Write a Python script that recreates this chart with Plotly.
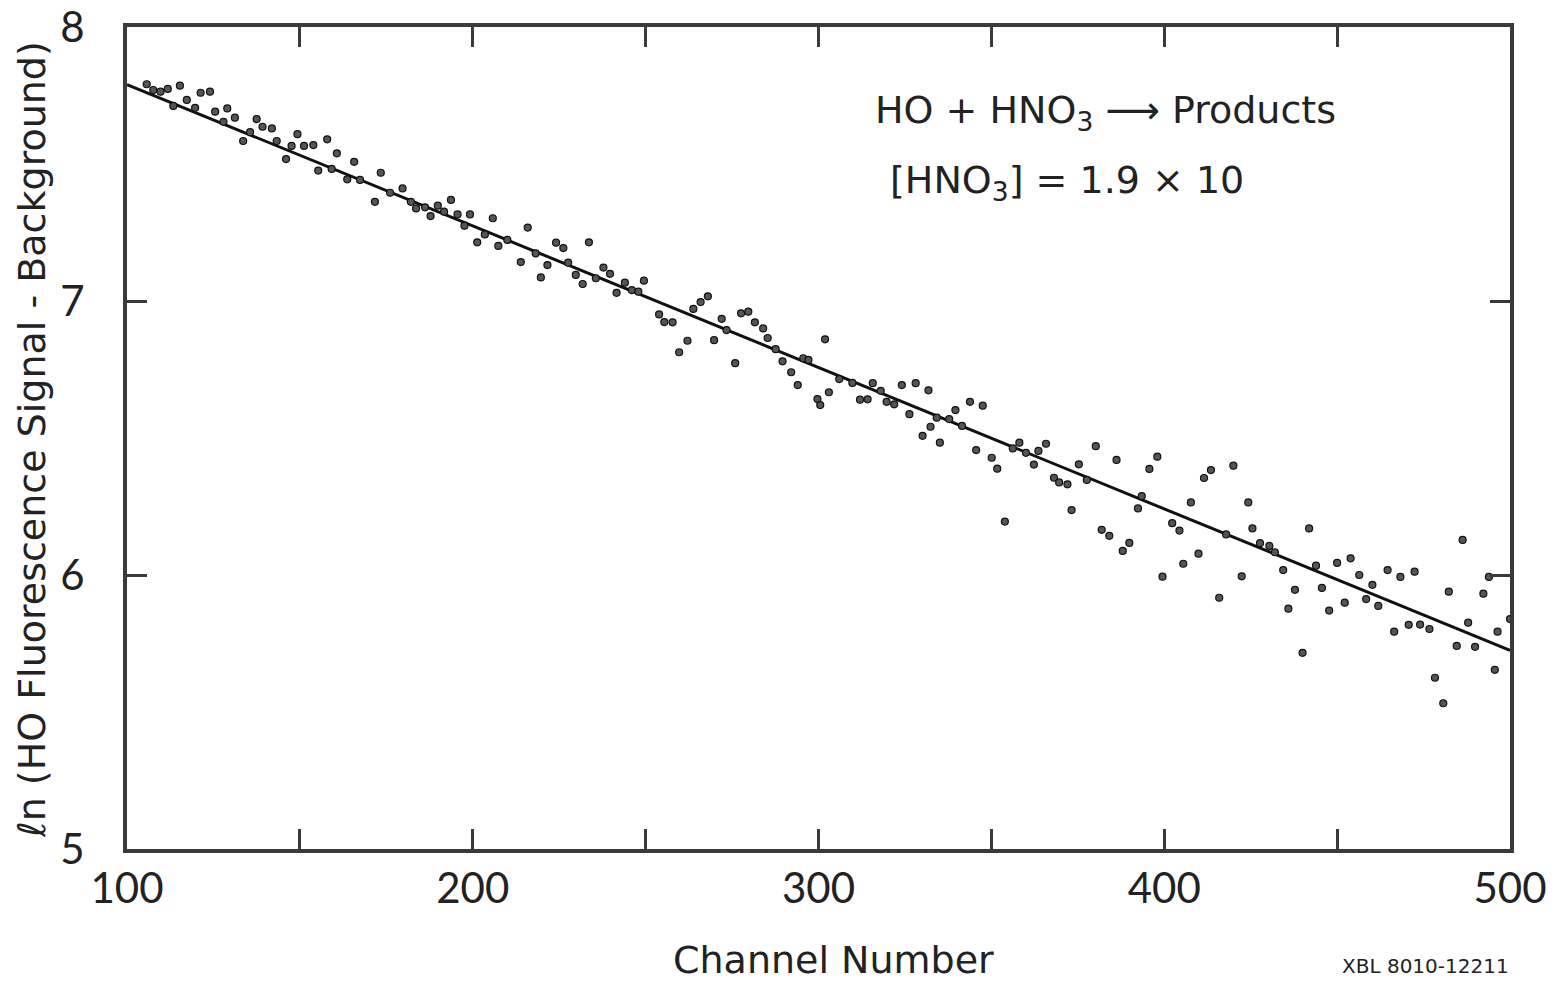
import plotly.graph_objects as go

channel = [105.7,107.6,109.7,111.8,113.4,115.3,117.3,119.7,121.3,124.0,125.5,127.9,129.0,131.2,133.6,135.6,137.5,139.2,141.9,143.3,146.0,147.6,149.3,
           151.2,153.9,155.3,157.9,159.2,160.7,163.7,165.7,167.4,171.7,173.4,176.1,179.7,182.1,183.6,186.2,187.8,189.9,191.7,193.7,195.6,197.6,199.2,
           201.3,203.5,205.8,207.4,210.0,213.9,215.9,218.2,219.7,221.6,224.1,226.2,227.6,229.8,231.8,233.6,235.6,237.8,239.7,241.6,244.0,246.0,247.9,
           249.5,253.9,255.4,257.8,259.7,262.1,263.8,265.9,268.0,269.8,272.0,273.4,275.9,277.6,279.7,281.6,284.0,285.3,287.6,289.6,292.1,294.0,295.6,297.1,
           299.7,300.5,301.9,303.0,306.0,309.8,312.0,314.2,315.7,318.0,319.7,321.9,324.1,326.3,328.1,330.1,331.8,332.4,334.2,335.1,337.8,339.6,341.5,343.8,345.6,
           347.5,350.1,351.7,353.9,356.2,358.1,360.0,362.3,363.6,365.8,368.1,369.6,372.0,373.2,375.3,377.6,380.2,381.9,384.1,386.2,388.0,389.9,392.4,393.5,395.7,
           398.0,399.5,402.3,404.4,405.5,407.7,409.9,411.5,413.5,415.9,417.9,420.0,422.4,424.3,425.5,427.7,430.4,432.0,434.4,435.9,437.8,440.0,441.9,443.9,445.6,447.7,
           450.0,452.2,453.9,456.4,458.4,460.2,461.9,464.6,466.5,468.3,470.7,472.4,474.0,476.7,478.3,480.7,482.3,484.6,486.3,487.9,489.9,492.3,493.9,495.6,496.4,500.0]

ln_signal = [7.791,7.770,7.764,7.774,7.712,7.786,7.734,7.705,7.760,7.764,7.691,7.654,7.703,7.669,7.584,7.616,7.664,7.636,7.630,7.584,7.518,7.566,7.609,
             7.566,7.569,7.476,7.590,7.482,7.539,7.444,7.508,7.442,7.362,7.468,7.395,7.411,7.362,7.338,7.342,7.310,7.348,7.326,7.369,7.316,7.275,7.316,
             7.214,7.243,7.302,7.201,7.223,7.142,7.268,7.174,7.086,7.131,7.213,7.193,7.140,7.095,7.062,7.214,7.083,7.122,7.099,7.030,7.067,7.040,7.034,
             7.074,6.951,6.923,6.922,6.813,6.855,6.971,6.996,7.017,6.857,6.935,6.894,6.773,6.955,6.961,6.922,6.900,6.865,6.824,6.780,6.740,6.693,6.791,6.785,
             6.642,6.620,6.860,6.667,6.715,6.701,6.640,6.641,6.700,6.672,6.632,6.623,6.693,6.587,6.700,6.508,6.674,6.541,6.574,6.483,6.569,6.602,6.544,6.632,6.456,
             6.618,6.428,6.388,6.195,6.462,6.483,6.446,6.403,6.453,6.479,6.355,6.338,6.331,6.237,6.404,6.347,6.470,6.165,6.143,6.420,6.088,6.117,6.243,6.288,6.387,
             6.432,5.994,6.189,6.162,6.041,6.265,6.078,6.354,6.383,5.917,6.148,6.399,5.995,6.265,6.170,6.116,6.106,6.083,6.018,5.877,5.946,5.716,6.170,6.034,5.953,5.870,
             6.044,5.899,6.061,6.000,5.912,5.964,5.887,6.018,5.793,5.993,5.818,6.012,5.819,5.803,5.625,5.532,5.939,5.741,6.128,5.826,5.738,5.932,5.993,5.654,5.793,5.839]

fit_channel = [100, 500]
fit_ln = [7.79, 5.725]

x_tickvals = [100, 200, 300, 400, 500]
y_tickvals = [5, 6, 7, 8]

TICKFONT = "Lato, 'DejaVu Sans', sans-serif"
TEXTFONT = "'DejaVu Sans', sans-serif"
INK = "#222"
AX = "#3a3a3a"

# plot-area geometry in pixels (used only to place free text in paper coordinates)
L, R, T, B = 127, 1510, 27, 849
W, H = R - L, B - T

def px(xp):
    return (xp - L) / W

def py(yp):
    return (B - yp) / H

fig = go.Figure()
fig.add_trace(go.Scatter(x=fit_channel, y=fit_ln, mode="lines",
                         line=dict(color="#111", width=3), showlegend=False, hoverinfo="skip"))
fig.add_trace(go.Scatter(x=channel, y=ln_signal, mode="markers",
                         marker=dict(size=7, color="#555", line=dict(color="#111", width=1.2)),
                         showlegend=False))

fig.update_layout(
    width=1558, height=981,
    margin=dict(l=L, r=1558 - R, t=T, b=981 - B),
    paper_bgcolor="white", plot_bgcolor="white",
    font=dict(family=TICKFONT, color=INK),
)
fig.update_xaxes(range=[100, 500], tickvals=x_tickvals, ticktext=[str(v) for v in x_tickvals],
                 automargin=False,
                 showgrid=False, zeroline=False, showline=True, linewidth=4, linecolor=AX, mirror="ticks",
                 ticks="inside", ticklen=20, tickwidth=3, tickcolor=AX,
                 minor=dict(dtick=50, tick0=100, ticks="inside", ticklen=20, tickwidth=3, tickcolor=AX),
                 tickfont=dict(size=42, family=TICKFONT, color=INK))
fig.update_yaxes(range=[5, 8], tickvals=y_tickvals, ticktext=[str(v) for v in y_tickvals],
                 automargin=False,
                 showgrid=False, zeroline=False, showline=True, linewidth=4, linecolor=AX, mirror="ticks",
                 ticks="inside", ticklen=20, tickwidth=3, tickcolor=AX, ticklabelstandoff=30,
                 tickfont=dict(size=42, family=TICKFONT, color=INK))

# axis titles
fig.add_annotation(xref="paper", yref="paper", x=px(833), y=py(960), xanchor="center", yanchor="middle",
                   text="Channel Number", showarrow=False, font=dict(size=38, family=TEXTFONT, color=INK))
fig.add_annotation(xref="paper", yref="paper", x=px(32), y=py(440), xanchor="center", yanchor="middle",
                   textangle=-90, text="ℓn (HO Fluorescence Signal - Background)", showarrow=False,
                   font=dict(size=38, family=TEXTFONT, color=INK))

# in-plot labels
fig.add_annotation(xref="paper", yref="paper", x=px(873), y=py(112), xanchor="left", yanchor="middle",
                   text="HO + HNO<sub>3</sub> ⟶ Products", showarrow=False, font=dict(size=38, family=TEXTFONT, color=INK))
fig.add_annotation(xref="paper", yref="paper", x=px(888), y=py(182), xanchor="left", yanchor="middle",
                   text="[HNO<sub>3</sub>] = 1.9 × 10", showarrow=False, font=dict(size=38, family=TEXTFONT, color=INK))
fig.add_annotation(xref="paper", yref="paper", x=px(1340), y=py(966), xanchor="left", yanchor="middle",
                   text="XBL 8010-12211", showarrow=False, font=dict(size=20, family=TEXTFONT, color=INK))

fig.write_html("out.html")
